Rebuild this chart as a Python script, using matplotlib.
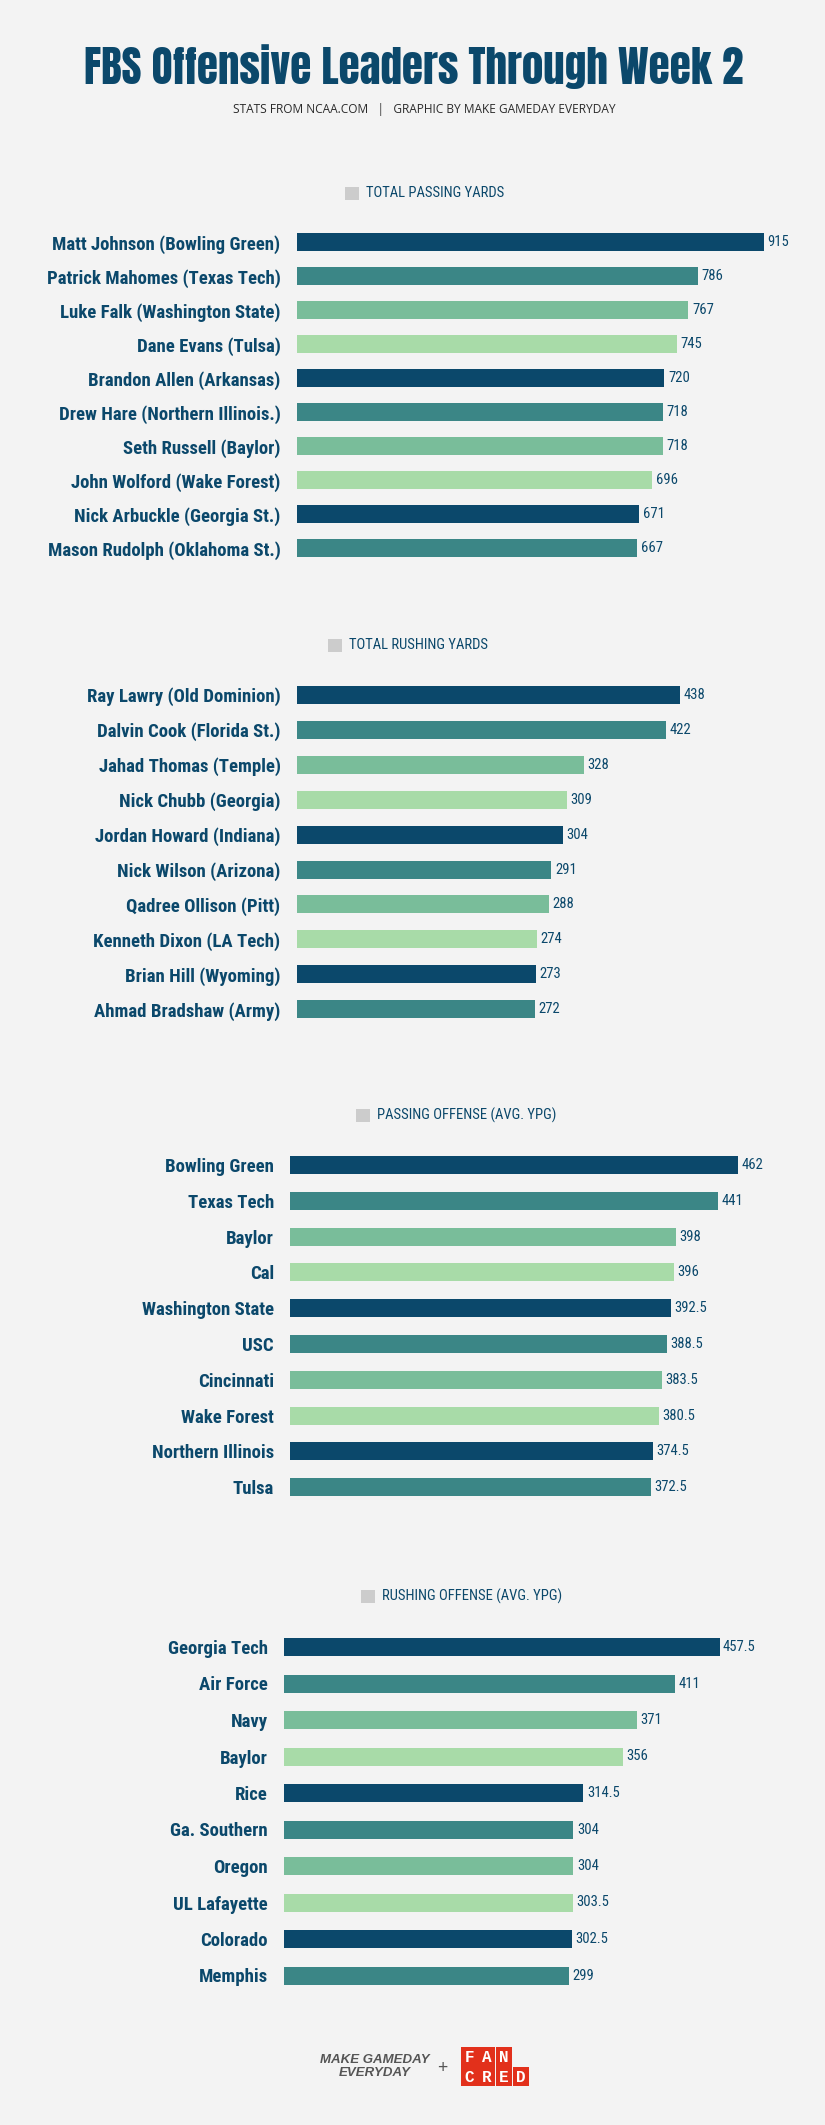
import matplotlib
matplotlib.use('Agg')
import matplotlib.pyplot as plt
from matplotlib.patches import Rectangle

# ---- data ----
pass_yds_names = ['Matt Johnson (Bowling Green)', 'Patrick Mahomes (Texas Tech)',
                  'Luke Falk (Washington State)', 'Dane Evans (Tulsa)',
                  'Brandon Allen (Arkansas)', 'Drew Hare (Northern Illinois.)',
                  'Seth Russell (Baylor)', 'John Wolford (Wake Forest)',
                  'Nick Arbuckle (Georgia St.)', 'Mason Rudolph (Oklahoma St.)']
pass_yds = [915, 786, 767, 745, 720, 718, 718, 696, 671, 667]

rush_yds_names = ['Ray Lawry (Old Dominion)', 'Dalvin Cook (Florida St.)',
                  'Jahad Thomas (Temple)', 'Nick Chubb (Georgia)',
                  'Jordan Howard (Indiana)', 'Nick Wilson (Arizona)',
                  'Qadree Ollison (Pitt)', 'Kenneth Dixon (LA Tech)',
                  'Brian Hill (Wyoming)', 'Ahmad Bradshaw (Army)']
rush_yds = [438, 422, 328, 309, 304, 291, 288, 274, 273, 272]

pass_off_teams = ['Bowling Green', 'Texas Tech', 'Baylor', 'Cal', 'Washington State',
                  'USC', 'Cincinnati', 'Wake Forest', 'Northern Illinois', 'Tulsa']
pass_off = [462, 441, 398, 396, 392.5, 388.5, 383.5, 380.5, 374.5, 372.5]

rush_off_teams = ['Georgia Tech', 'Air Force', 'Navy', 'Baylor', 'Rice', 'Ga. Southern',
                  'Oregon', 'UL Lafayette', 'Colorado', 'Memphis']
rush_off = [457.5, 411, 371, 356, 314.5, 304, 304, 303.5, 302.5, 299]

section_titles = ['TOTAL PASSING YARDS', 'TOTAL RUSHING YARDS',
                  'PASSING OFFENSE (AVG. YPG)', 'RUSHING OFFENSE (AVG. YPG)']

# ---- style ----
palette = ['#0B486B', '#3B8686', '#79BD9A', '#A8DBA8']
navy = '#0B486B'
bg = '#F3F3F3'
TITLE_F = ['Anton', 'Fjalla One', 'Oswald', 'DejaVu Sans']
COND = ['Roboto Condensed', 'Liberation Sans Narrow', 'DejaVu Sans']
SUB_F = ['Open Sans', 'DejaVu Sans']
LOGO_F = ['Liberation Sans', 'DejaVu Sans']
SLAB_F = ['Roboto Slab', 'Liberation Mono', 'DejaVu Sans Mono']

W, H = 825, 2125
fig = plt.figure(figsize=(W / 100, H / 100), dpi=100, facecolor=bg)

# overlay in pixel coordinates for title, legends and footer
ov = fig.add_axes([0, 0, 1, 1], zorder=0)
ov.set_xlim(0, W)
ov.set_ylim(H, 0)
ov.axis('off')

ov.text(414, 67, 'FBS Offensive Leaders Through Week 2', ha='center', va='center',
        fontsize=31, color=navy, family=TITLE_F)
ov.text(424, 109.5, 'STATS FROM NCAA.COM   |   GRAPHIC BY MAKE GAMEDAY EVERYDAY',
        ha='center', va='center', fontsize=8.6, color='#2A2A2A', family=SUB_F)

# (first row centre y, row spacing, bar left x, px per unit, legend y, legend square x)
layout = [
    (242.3, 34.0, 296.5, 0.511, 193, 345),
    (695.0, 34.9, 296.5, 0.876, 645, 328),
    (1165.0, 35.8, 290.0, 0.970, 1115, 356),
    (1647.0, 36.5, 284.0, 0.952, 1596, 361),
]
sections = [(pass_yds_names, pass_yds), (rush_yds_names, rush_yds),
            (pass_off_teams, pass_off), (rush_off_teams, rush_off)]

for (names, vals), (y0, sp, x0, scale, ly, lx), ttl in zip(sections, layout, section_titles):
    # legend
    ov.add_patch(Rectangle((lx, ly - 6.5), 14, 13, color='#CCCCCC', lw=0))
    ov.text(lx + 21, ly, ttl, ha='left', va='center', fontsize=10.5,
            color=navy, family=COND)

    n = len(vals)
    aw = 500
    top = y0 - sp / 2
    ah = sp * n
    ax = fig.add_axes([x0 / W, 1 - (top + ah) / H, aw / W, ah / H], zorder=1)
    ax.set_facecolor('none')
    colors = [palette[i % 4] for i in range(n)]
    bars = ax.barh(range(n), vals, height=18 / sp, color=colors)
    ax.bar_label(bars, labels=[f'{v:g}' for v in vals], padding=2.5,
                 fontsize=10.5, color=navy, family=COND)
    ax.set_xlim(0, aw / scale)
    ax.set_ylim(n - 0.5, -0.5)
    ax.set_yticks(range(n))
    ax.set_yticklabels(names, fontsize=13.5, fontweight='bold', color=navy, family=COND)
    ax.tick_params(axis='y', length=0, pad=11.5)
    ax.xaxis.set_visible(False)
    ax.set_frame_on(False)

# footer logos
ov.text(375, 2059.7, 'MAKE GAMEDAY', ha='center', va='center', fontsize=9.5,
        fontweight='bold', fontstyle='italic', color='#555555', family=LOGO_F)
ov.text(375, 2073.5, 'EVERYDAY', ha='center', va='center', fontsize=9.5,
        fontweight='bold', fontstyle='italic', color='#555555', family=LOGO_F)
ov.text(442, 2068, '+', ha='center', va='center', fontsize=13, color='#555555',
        family=['Open Sans', 'DejaVu Sans'])
red = '#E2301B'
for row, word in enumerate(['FAN', 'CRED']):
    for k, ch in enumerate(word):
        bx = 461 + k * 17.25
        by = 2047.3 + row * 19.8
        ov.add_patch(Rectangle((bx, by), 16.6, 19.2, color=red, lw=0))
        ov.text(bx + 8.3, by + 10, ch, ha='center', va='center', fontsize=11.5,
                fontweight='bold', color='white', family=SLAB_F)

fig.savefig('out.png', dpi=100, facecolor=bg)
